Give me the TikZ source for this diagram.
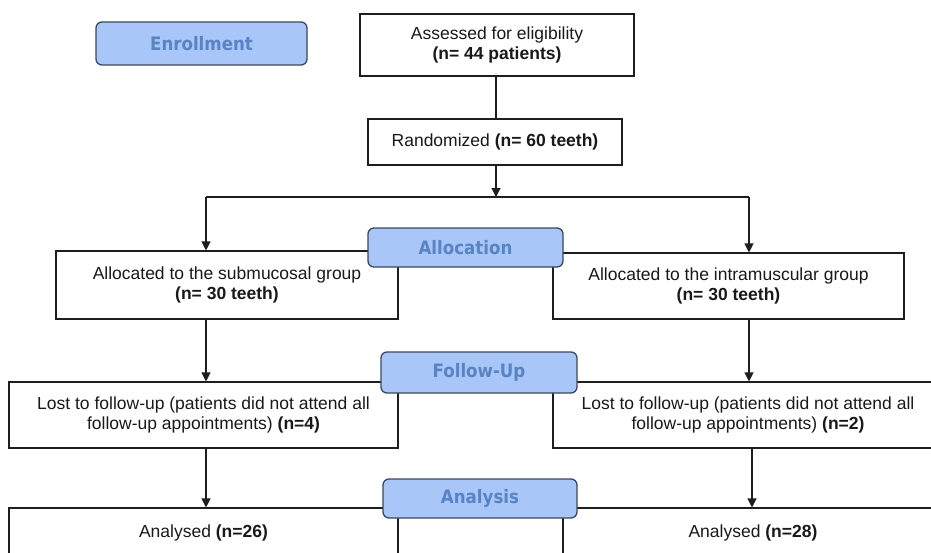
\documentclass[tikz,border=0pt]{standalone}
\usepackage{fontspec}
\setmainfont{Liberation Sans}
\newfontfamily\labelfont[FakeStretch=0.9]{DejaVu Sans}
\usetikzlibrary{arrows.meta}
\definecolor{lblfill}{RGB}{168,198,247}
\definecolor{lbltext}{RGB}{88,131,196}
\definecolor{lbldraw}{RGB}{60,72,92}
\definecolor{boxtext}{RGB}{25,25,25}
\definecolor{linec}{RGB}{30,30,30}
\begin{document}
\begin{tikzpicture}[x=1pt,y=-1pt,
 box/.style={draw=linec, line width=1.1pt, fill=white, inner sep=0pt, align=center, text=boxtext, font=\fontsize{17.5}{20.5}\selectfont},
 phase/.style={draw=lbldraw, line width=1.3pt, fill=lblfill, rounded corners=6pt, inner sep=0pt, text=lbltext, font=\labelfont\bfseries\fontsize{18.5}{22}\selectfont},
 arr/.style={draw=linec, line width=1.1pt, -{Triangle[width=9pt,length=9pt]}},
 conn/.style={draw=linec, line width=1.1pt}]
\useasboundingbox (0,0) rectangle (931,552);
\fill[white] (0,0) rectangle (931,552);

% boxes
\node[box, minimum width=274pt, minimum height=62pt] (assess) at (497,45) {Assessed for eligibility\\\textbf{(n= 44 patients)}};
\node[box, minimum width=254pt, minimum height=46pt] (rand) at (495,142) {Randomized \textbf{(n= 60 teeth)}};
\node[box, minimum width=342pt, minimum height=68pt] (la) at (227,285) {Allocated to the submucosal group\\\textbf{(n= 30 teeth)}};
\node[box, minimum width=351pt, minimum height=66pt] (ra) at (728.5,286) {Allocated to the intramuscular group\\\textbf{(n= 30 teeth)}};
\node[box, minimum width=389pt, minimum height=66pt] (ll) at (203.5,415) {Lost to follow-up (patients did not attend all\\follow-up appointments) \textbf{(n=4)}};
\node[box, minimum width=390pt, minimum height=66pt] (rl) at (748,415) {Lost to follow-up (patients did not attend all\\follow-up appointments) \textbf{(n=2)}};
\node[box, minimum width=389pt, minimum height=50pt] (lan) at (203.5,533) {Analysed \textbf{(n=26)}};
\node[box, minimum width=380pt, minimum height=50pt] (ran) at (753,533) {Analysed \textbf{(n=28)}};

% branch coordinates
\coordinate (bm) at (496,197);
\coordinate (bl) at (206,197);
\coordinate (br) at (749,197);
\coordinate (br2) at (752,197);

% connectors
\draw[conn] (assess.south -| bm) -- (rand.north -| bm);
\draw[arr] (rand.south -| bm) -- (bm);
\draw[conn] (bl) -- (br);
\draw[arr] (bl) -- (la.north -| bl);
\draw[arr] (br) -- (ra.north -| br);
\draw[arr] (la.south -| bl) -- (ll.north -| bl);
\draw[arr] (ra.south -| br) -- (rl.north -| br);
\draw[arr] (ll.south -| bl) -- (lan.north -| bl);
\draw[arr] (rl.south -| br2) -- (ran.north -| br2);

% phase labels
\node[phase, minimum width=211pt, minimum height=43pt] (enroll) at (201.5,43.5) {Enrollment};
\node[phase, minimum width=195pt, minimum height=39pt] (alloc) at (465.5,247.5) {Allocation};
\node[phase, minimum width=196pt, minimum height=41pt] (fu) at (479,372.5) {Follow-Up};
\node[phase, minimum width=194pt, minimum height=39pt] (anal) at (480,498.5) {Analysis};
\end{tikzpicture}
\end{document}
